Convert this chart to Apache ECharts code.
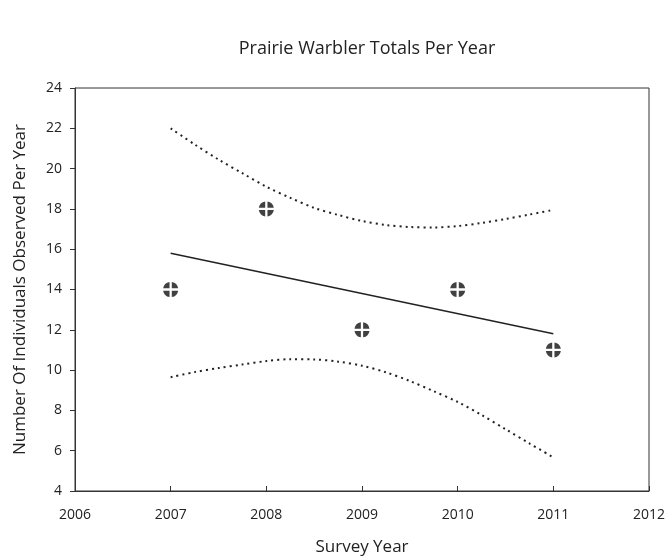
<!DOCTYPE html>
<html>
<head>
<meta charset="utf-8">
<script src="https://cdn.jsdelivr.net/npm/echarts@6/dist/echarts.min.js"></script>
<style>
  html, body { margin: 0; padding: 0; background: #fff; }
  #chart { width: 668px; height: 560px; }
</style>
</head>
<body>
<div id="chart"></div>
<script>
// observed totals
var years = [2007, 2008, 2009, 2010, 2011];
var totals = [14, 18, 12, 14, 11];

// fitted line, read at the ends
var fitYears = [2007, 2011];
var fitValues = [15.8, 11.8];

// confidence band, every quarter year
var bandYears = [2007, 2007.25, 2007.5, 2007.75, 2008, 2008.25, 2008.5, 2008.75, 2009,
  2009.25, 2009.5, 2009.75, 2010, 2010.25, 2010.5, 2010.75, 2011];
var upperBand = [22.0, 21.2, 20.45, 19.77, 19.1, 18.55, 18.05, 17.7, 17.4,
  17.2, 17.1, 17.08, 17.15, 17.3, 17.5, 17.72, 17.95];
var lowerBand = [9.65, 9.9, 10.1, 10.28, 10.45, 10.54, 10.53, 10.42, 10.22,
  9.89, 9.46, 8.95, 8.42, 7.77, 7.07, 6.36, 5.67];

var yTicks = { min: 4, max: 24, step: 2 };
var xTicks = { min: 2006, max: 2012, step: 1 };

function pairs(xs, ys) {
  return xs.map(function (x, i) { return [x, ys[i]]; });
}

// circle split in four by a white cross
var markerPath = 'path://M1.5,-9.887 A10,10 0 0 1 9.887,-1.5 L1.5,-1.5 Z ' +
  'M9.887,1.5 A10,10 0 0 1 1.5,9.887 L1.5,1.5 Z ' +
  'M-1.5,9.887 A10,10 0 0 1 -9.887,1.5 L-1.5,1.5 Z ' +
  'M-9.887,-1.5 A10,10 0 0 1 -1.5,-9.887 L-1.5,-1.5 Z';

var font = '"Open Sans", "Liberation Sans", sans-serif';
var chart = echarts.init(document.getElementById('chart'));

var bandStyle = { color: '#222', width: 2, type: [2, 4] };

chart.setOption({
  animation: false,
  backgroundColor: '#fff',
  title: {
    text: 'Prairie Warbler Totals Per Year',
    left: 362, top: 35, textAlign: 'center',
    textStyle: { fontFamily: font, fontWeight: 'normal', fontSize: 18, color: '#222' }
  },
  grid: {
    left: 75, right: 19, top: 88, bottom: 69,
    outerBoundsMode: 'none', containLabel: false,
    show: true, borderColor: '#333', borderWidth: 1, backgroundColor: 'transparent'
  },
  xAxis: {
    type: 'value',
    min: xTicks.min, max: xTicks.max, interval: xTicks.step,
    name: 'Survey Year', nameLocation: 'middle', nameGap: 48,
    nameTextStyle: { fontFamily: font, fontSize: 17, color: '#222' },
    axisLine: { show: true, lineStyle: { color: '#333', width: 1 } },
    axisTick: { show: true, inside: true, length: 5, lineStyle: { color: '#333' } },
    axisLabel: {
      fontFamily: font, fontSize: 14, color: '#222', margin: 17,
      formatter: function (v) { return String(v); }
    },
    splitLine: { show: false }
  },
  yAxis: {
    type: 'value',
    min: yTicks.min, max: yTicks.max, interval: yTicks.step,
    name: 'Number Of Individuals Observed Per Year', nameLocation: 'middle', nameGap: 46,
    nameTextStyle: { fontFamily: font, fontSize: 17, color: '#222' },
    axisLine: { show: true, lineStyle: { color: '#333', width: 1 } },
    axisTick: { show: true, length: 5, lineStyle: { color: '#333' } },
    axisLabel: { fontFamily: font, fontSize: 14, color: '#222', margin: 13 },
    splitLine: { show: false }
  },
  series: [
    {
      type: 'line', data: pairs(bandYears, upperBand), smooth: 0.3,
      showSymbol: false, lineStyle: bandStyle
    },
    {
      type: 'line', data: pairs(bandYears, lowerBand), smooth: 0.3,
      showSymbol: false, lineStyle: bandStyle
    },
    {
      type: 'line', data: pairs(fitYears, fitValues),
      showSymbol: false, lineStyle: { color: '#222', width: 1.5 }
    },
    {
      type: 'scatter', data: pairs(years, totals),
      symbol: markerPath, symbolSize: 15,
      itemStyle: { color: '#111' }, z: 5
    }
  ]
});
</script>
</body>
</html>
